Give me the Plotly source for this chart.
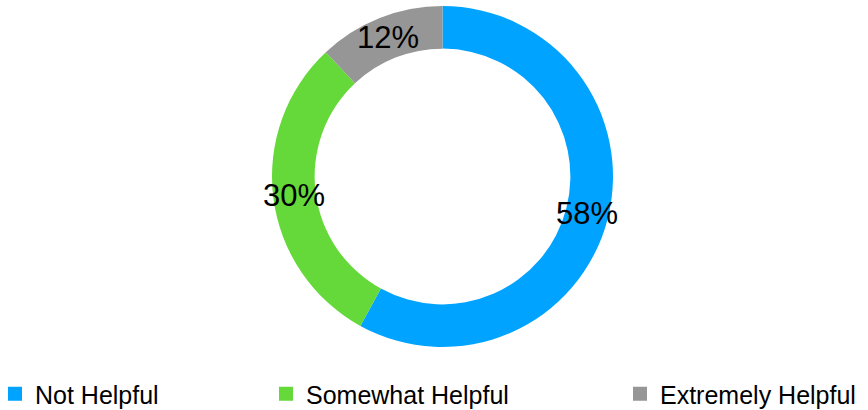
import math
import plotly.graph_objects as go

categories = ["Not Helpful", "Somewhat Helpful", "Extremely Helpful"]
values = [58, 30, 12]
colors = ["#00A3FF", "#65D83A", "#969696"]

W, H = 868, 410
ML, MR, MT, MB = 17, 0, 6, 63
PW, PH = W - ML - MR, H - MT - MB
HOLE = 0.75
FONT = "Arial, Liberation Sans, sans-serif"

fig = go.Figure()
fig.add_trace(go.Pie(
    labels=categories, values=values, hole=HOLE, sort=False,
    direction="clockwise", rotation=0,
    marker=dict(colors=colors, line=dict(width=0)),
    textinfo="none", showlegend=False,
))

# percentage labels at the middle of the ring, computed from the data
R = min(PW, PH) / 2
r_lab = R * (1 + HOLE) / 2
total = sum(values)
cum = 0
annotations = []
for v in values:
    mid = (cum + v / 2) / total * 2 * math.pi
    cum += v
    annotations.append(dict(
        x=0.5 + r_lab / PW * math.sin(mid),
        y=0.5 + r_lab / PH * math.cos(mid),
        xref="paper", yref="paper", text=f"{round(v / total * 100)}%",
        showarrow=False, xanchor="center", yanchor="middle",
        font=dict(family=FONT, size=31, color="#000000"),
    ))

# legend entries, each in its own legend to reproduce spacing
text_starts = [36, 307, 661]
legend_layouts = {}
for i, (cat, col) in enumerate(zip(categories, colors)):
    name = "legend" if i == 0 else f"legend{i + 1}"
    fig.add_trace(go.Scatter(
        x=[None], y=[None], mode="markers", name=cat,
        marker=dict(symbol="square", size=14, color=col),
        showlegend=True, legend=name,
    ))
    left_px = text_starts[i] - 41
    legend_layouts[name] = dict(
        x=(left_px - ML) / PW, xanchor="left",
        y=1 - (394 - MT) / PH, yanchor="middle",
        orientation="h", bgcolor="rgba(0,0,0,0)",
        font=dict(family=FONT, size=25, color="#000000"),
    )

fig.update_layout(
    width=W, height=H,
    margin=dict(l=ML, r=MR, t=MT, b=MB, pad=0, autoexpand=False),
    paper_bgcolor="white", plot_bgcolor="white",
    xaxis=dict(visible=False), yaxis=dict(visible=False),
    annotations=annotations,
    **legend_layouts,
)

fig.write_html("out.html", config={"displayModeBar": False},
               post_script="document.body.style.margin='0';")
